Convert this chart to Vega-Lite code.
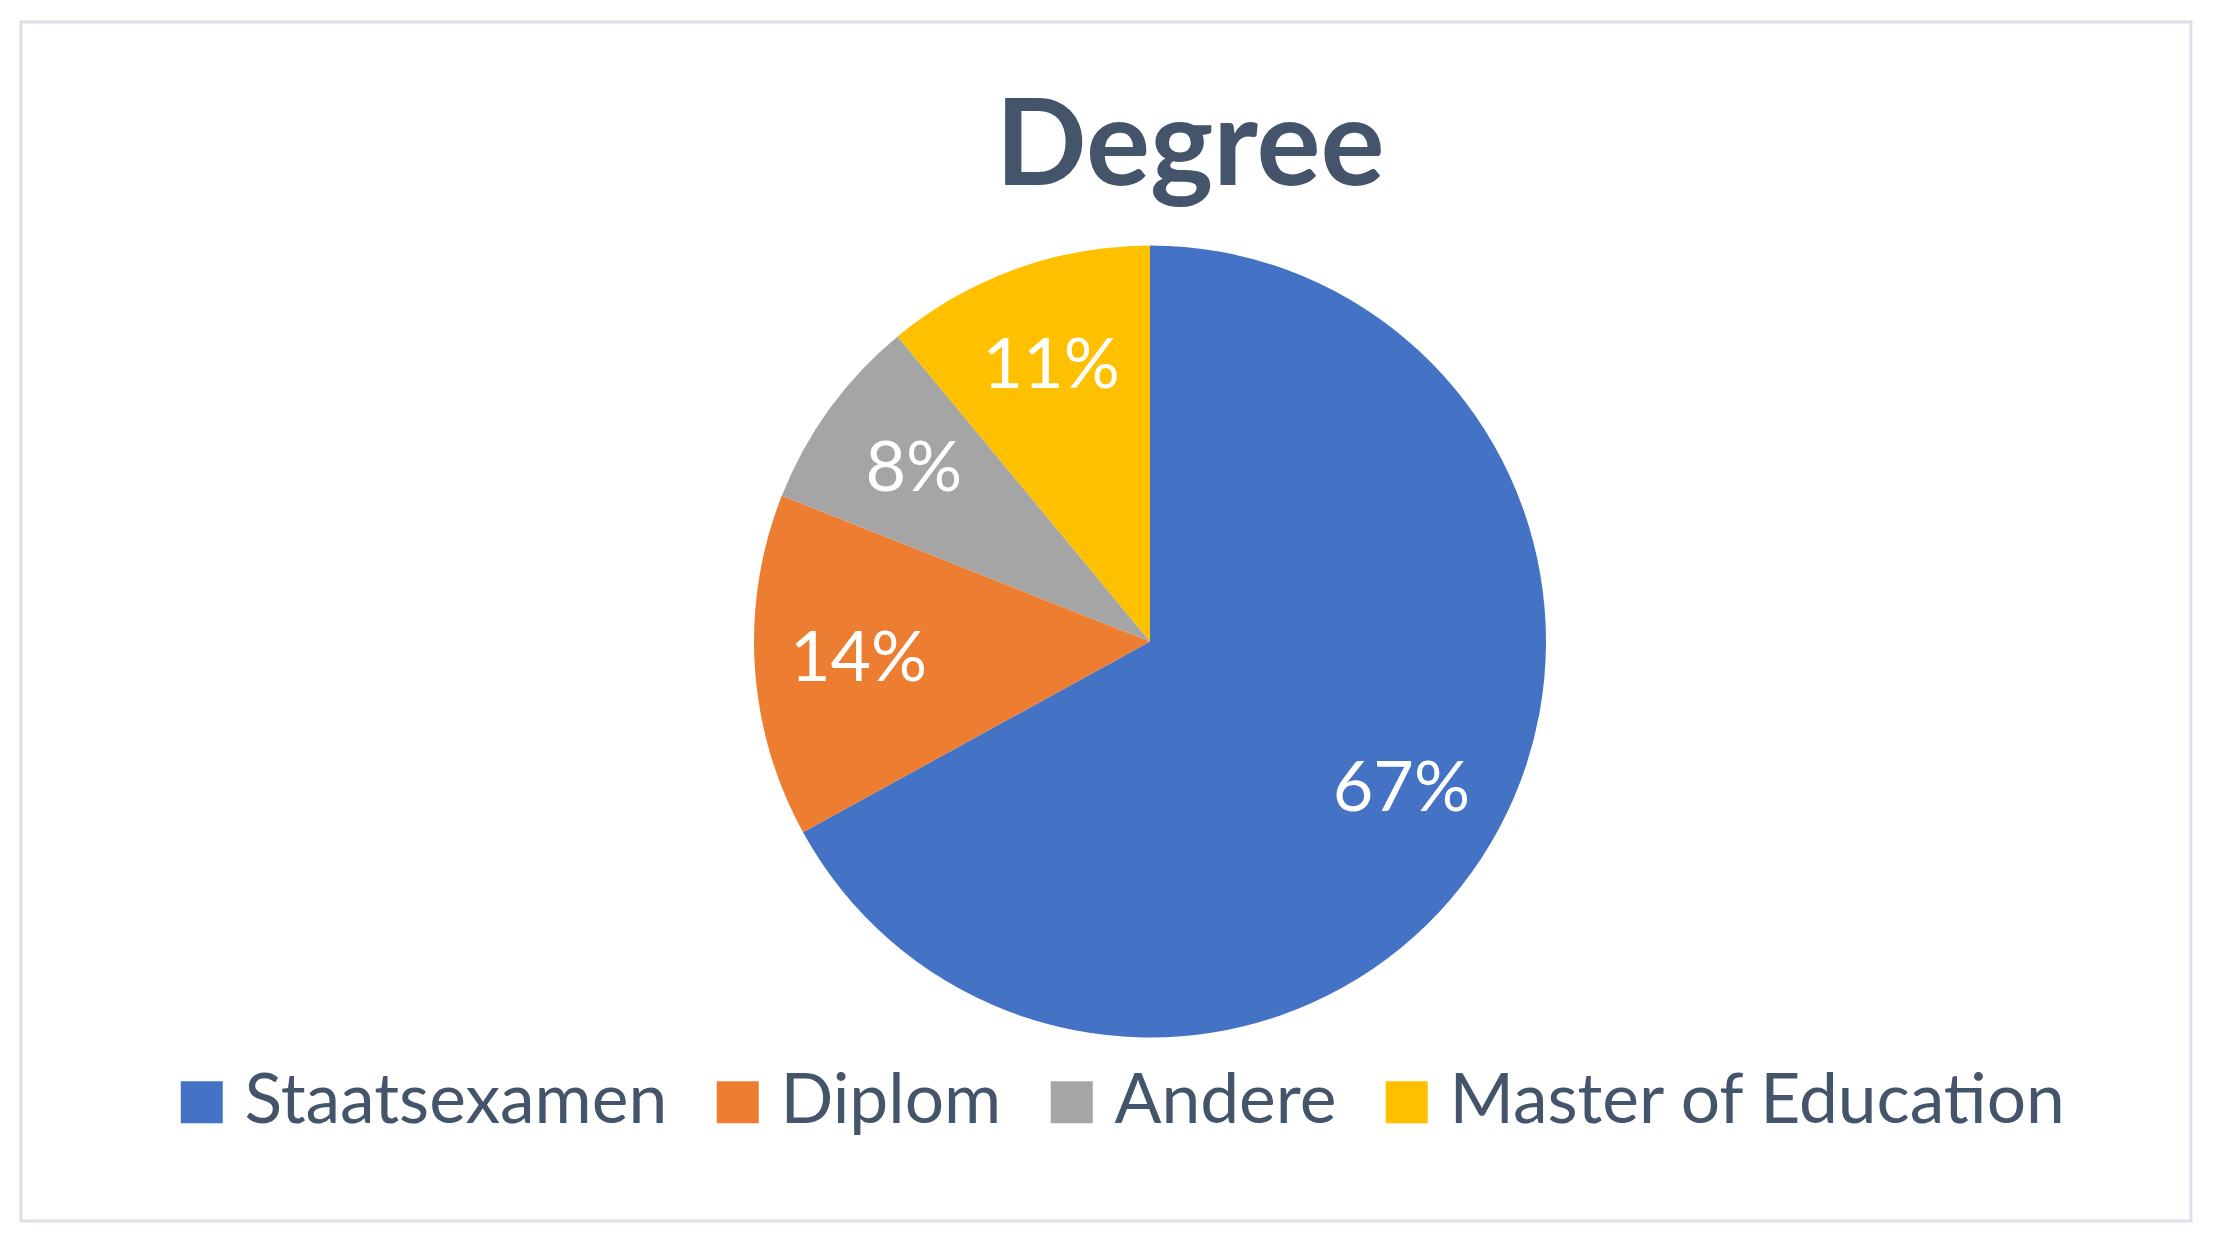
{
  "$schema": "https://vega.github.io/schema/vega-lite/v6.json",
  "width": 2170,
  "height": 1199,
  "autosize": {"type": "none"},
  "padding": {"left": 21, "top": 22, "right": 24, "bottom": 30},
  "background": "white",
  "config": {"view": {"stroke": null}},
  "title": {
    "text": "Degree",
    "font": "Lato",
    "fontSize": 120,
    "fontWeight": "bold",
    "color": "#44546A",
    "anchor": "middle",
    "baseline": "alphabetic",
    "offset": 0,
    "dy": 284,
    "dx": 84
  },
  "data": {
    "values": [
      {"degree": "Staatsexamen", "value": 67, "label": "67%", "idx": 1},
      {"degree": "Diplom", "value": 14, "label": "14%", "idx": 2},
      {"degree": "Andere", "value": 8, "label": "8%", "idx": 3},
      {"degree": "Master of Education", "value": 11, "label": "11%", "idx": 4}
    ]
  },
  "layer": [
    {
      "data": {"values": [{"frame": 1}]},
      "mark": {"type": "rect", "fill": null, "stroke": "#DCE0E8", "strokeWidth": 3},
      "encoding": {}
    },
    {
      "mark": {"type": "arc", "outerRadius": 396, "xOffset": 44, "yOffset": 20},
      "encoding": {
        "theta": {"field": "value", "type": "quantitative", "stack": true},
        "order": {"field": "idx", "type": "quantitative", "sort": "ascending"},
        "color": {
          "field": "degree",
          "type": "nominal",
          "scale": {
            "domain": ["Staatsexamen", "Diplom", "Andere", "Master of Education"],
            "range": ["#4472C4", "#ED7D31", "#A5A5A5", "#FFC000"]
          },
          "legend": {
            "orient": "none",
            "legendX": 146,
            "legendY": 1045,
            "direction": "horizontal",
            "columns": 4,
            "title": null,
            "padding": 0,
            "symbolType": "square",
            "symbolSize": 1764,
            "symbolOpacity": 1,
            "symbolStrokeWidth": 0,
            "labelFont": "Lato",
            "labelFontSize": 69.5,
            "labelColor": "#44546A",
            "labelOffset": 8,
            "labelLimit": 0,
            "columnPadding": 35
          }
        }
      }
    },
    {
      "mark": {"type": "text", "radius": 292, "xOffset": 44, "yOffset": 20, "font": "Lato", "fontSize": 70, "fill": "white"},
      "encoding": {
        "theta": {"field": "value", "type": "quantitative", "stack": true},
        "order": {"field": "idx", "type": "quantitative", "sort": "ascending"},
        "text": {"field": "label", "type": "nominal"}
      }
    }
  ]
}
